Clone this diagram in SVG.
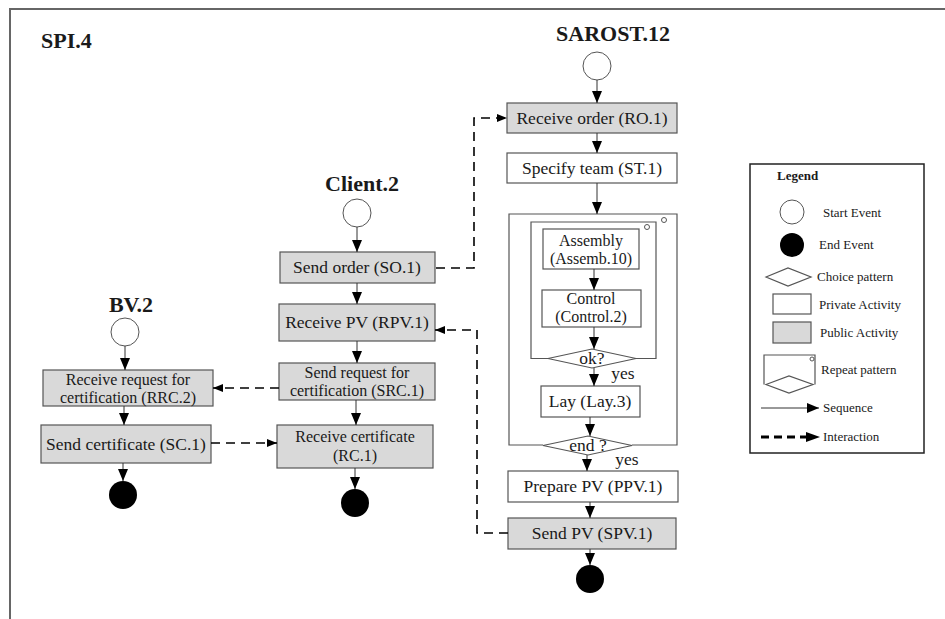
<svg xmlns="http://www.w3.org/2000/svg" width="945" height="619" viewBox="0 0 945 619">
  <defs>
    <style>
      text { font-family: "Liberation Serif", "Times New Roman", serif; fill: #1a1a1a; }
      .lbl { font-size: 17.5px; text-anchor: middle; }
      .ml { font-size: 16px; text-anchor: middle; }
      .title { font-size: 22px; font-weight: bold; text-anchor: middle; }
      .leg { font-size: 13px; }
      .pub { fill: #d9d9d9; stroke: #555; stroke-width: 1.2; }
      .priv { fill: #fff; stroke: #555; stroke-width: 1.2; }
      .start { fill: #fff; stroke: #555; stroke-width: 1; }
      .end { fill: #000; }
      .seq { stroke: #333; stroke-width: 1; fill: none; marker-end: url(#ah); }
      .int { stroke: #000; stroke-width: 1.6; fill: none; stroke-dasharray: 9 6; marker-end: url(#ahi); }
      .ch { fill: #fff; stroke: #555; stroke-width: 1.2; }
      .rep { fill: none; stroke: #555; stroke-width: 1.2; }
    </style>
    <marker id="ah" markerUnits="userSpaceOnUse" markerWidth="12" markerHeight="12" viewBox="0 0 12 10" refX="12" refY="5" orient="auto">
      <path d="M0,0 L12,5 L0,10 Z" fill="#000"/>
    </marker>
    <marker id="ahi" markerUnits="userSpaceOnUse" markerWidth="10" markerHeight="10" viewBox="0 0 10 8" refX="10" refY="4" orient="auto">
      <path d="M0,0 L10,4 L0,8 Z" fill="#000"/>
    </marker>
  </defs>

  <!-- frame -->
  <path d="M10,619 L10,9 L945,9" fill="none" stroke="#666" stroke-width="2"/>
  <text x="41" y="48" style="font-size:22px;font-weight:bold">SPI.4</text>

  <!-- SAROST.12 process -->
  <g id="sarost">
    <text class="title" x="613" y="41">SAROST.12</text>
    <circle class="start" cx="597" cy="66" r="14"/>
  </g>
  <g id="ro1"><rect class="pub" x="507" y="103" width="170" height="30"/><text class="lbl" x="592" y="124">Receive order  (RO.1)</text></g>
  <g id="st1"><rect class="priv" x="507" y="153" width="170" height="30"/><text class="lbl" x="592" y="174">Specify team (ST.1)</text></g>
  <g id="repeat-outer">
    <path class="rep" d="M543,445 L509,445 L509,214 L677,214 L677,445 L632,445"/>
    <circle class="start" cx="664" cy="220" r="2.5"/>
  </g>
  <g id="repeat-inner">
    <path class="rep" d="M548,358.5 L531,358.5 L531,222 L656,222 L656,358.5 L636,358.5"/>
    <circle class="start" cx="647" cy="227" r="2.5"/>
  </g>
  <g id="assemb10"><rect class="priv" x="543" y="229" width="96" height="40"/><text class="ml" x="591" y="246">Assembly</text><text class="ml" x="591" y="264">(Assemb.10)</text></g>
  <g id="control2"><rect class="priv" x="542" y="290" width="99" height="37"/><text class="ml" x="591" y="304">Control</text><text class="ml" x="591" y="322">(Control.2)</text></g>
  <g id="ok"><path class="ch" d="M548,358.5 L592,349 L636,358.5 L592,368 Z"/><text class="lbl" x="592" y="364">ok?</text></g>
  <g id="lay3"><rect class="priv" x="541" y="386" width="99" height="31"/><text class="lbl" x="590" y="407">Lay (Lay.3)</text></g>
  <g id="endq"><path class="ch" d="M543,445.5 L588,436 L632,445.5 L588,455 Z"/><text class="lbl" x="588" y="451">end ?</text></g>
  <g id="ppv1"><rect class="priv" x="508" y="471" width="170" height="31"/><text class="lbl" x="593" y="492">Prepare PV (PPV.1)</text></g>
  <g id="spv1"><rect class="pub" x="508" y="518" width="168" height="31"/><text class="lbl" x="592" y="539">Send PV (SPV.1)</text></g>
  <g id="sarost-end"><circle class="end" cx="590" cy="579" r="14"/></g>

  <!-- Client.2 process -->
  <g id="client">
    <text class="title" x="362" y="191">Client.2</text>
    <circle class="start" cx="357" cy="213" r="14"/>
  </g>
  <g id="so1"><rect class="pub" x="280" y="252" width="155" height="31"/><text class="lbl" x="357" y="273">Send order (SO.1)</text></g>
  <g id="rpv1"><rect class="pub" x="279" y="304" width="156" height="37"/><text class="lbl" x="357" y="328">Receive PV (RPV.1)</text></g>
  <g id="src1"><rect class="pub" x="279" y="363" width="156" height="37"/><text class="ml" x="357" y="378">Send request for</text><text class="ml" x="357" y="396">certification (SRC.1)</text></g>
  <g id="rc1"><rect class="pub" x="277" y="425" width="156" height="43"/><text class="ml" x="355" y="442">Receive certificate</text><text class="ml" x="355" y="461">(RC.1)</text></g>
  <g id="client-end"><circle class="end" cx="355" cy="503" r="14"/></g>

  <!-- BV.2 process -->
  <g id="bv">
    <text class="title" x="131" y="312">BV.2</text>
    <circle class="start" cx="125" cy="332" r="14"/>
  </g>
  <g id="rrc2"><rect class="pub" x="43" y="370" width="170" height="36"/><text class="ml" x="128" y="385">Receive request for</text><text class="ml" x="128" y="403">certification (RRC.2)</text></g>
  <g id="sc1"><rect class="pub" x="41" y="425" width="170" height="38"/><text class="lbl" x="126" y="450">Send certificate (SC.1)</text></g>
  <g id="bv-end"><circle class="end" cx="123" cy="495" r="14"/></g>

  <!-- connectors -->
  <g id="connectors">
    <line class="seq" x1="597" y1="80" x2="597" y2="103"/>
    <line class="seq" x1="597" y1="133" x2="597" y2="153"/>
    <line class="seq" x1="597" y1="183" x2="597" y2="214"/>
    <line class="seq" x1="594" y1="269" x2="594" y2="290"/>
    <line class="seq" x1="594" y1="327" x2="594" y2="349"/>
    <line class="seq" x1="594" y1="368" x2="594" y2="386"/>
    <line class="seq" x1="590" y1="417" x2="590" y2="436"/>
    <line class="seq" x1="587" y1="455" x2="587" y2="471"/>
    <line class="seq" x1="590" y1="502" x2="590" y2="518"/>
    <line class="seq" x1="590" y1="549" x2="590" y2="565"/>

    <line class="seq" x1="357" y1="227" x2="357" y2="252"/>
    <line class="seq" x1="357" y1="283" x2="357" y2="304"/>
    <line class="seq" x1="357" y1="341" x2="357" y2="363"/>
    <line class="seq" x1="356" y1="400" x2="356" y2="425"/>
    <line class="seq" x1="355" y1="468" x2="355" y2="489"/>

    <line class="seq" x1="125" y1="346" x2="125" y2="370"/>
    <line class="seq" x1="124" y1="406" x2="124" y2="425"/>
    <line class="seq" x1="123" y1="463" x2="123" y2="481"/>

    <path class="int" d="M436,268 L474,268 L474,118 L507,118"/>
    <path class="int" d="M508,533 L477,533 L477,330 L435,330"/>
    <path class="int" d="M279,388 L213,388"/>
    <path class="int" d="M211,443 L277,443"/>

    <text class="lbl" x="623" y="379">yes</text>
    <text class="lbl" x="627" y="465">yes</text>
  </g>

  <!-- legend -->
  <g id="legend">
    <rect x="750" y="164" width="174" height="289" fill="#fff" stroke="#222" stroke-width="1.5"/>
    <text class="leg" x="777" y="180" style="font-weight:bold">Legend</text>
    <circle class="start" cx="792" cy="212" r="12"/>
    <text class="leg" x="823" y="217">Start Event</text>
    <circle class="end" cx="792" cy="245" r="12"/>
    <text class="leg" x="819" y="249">End Event</text>
    <path class="ch" d="M766,277 L788,268 L811,277 L788,286 Z"/>
    <text class="leg" x="817" y="281">Choice pattern</text>
    <rect class="priv" x="773" y="294" width="38" height="20"/>
    <text class="leg" x="819" y="309">Private Activity</text>
    <rect class="pub" x="773" y="322" width="38" height="21"/>
    <text class="leg" x="820" y="337">Public Activity</text>
    <path class="rep" d="M764,384.5 L764,355 L815,355 L815,384.5"/>
    <path class="ch" d="M766,384.5 L789,376 L813,384.5 L789,393 Z"/>
    <circle class="start" cx="812" cy="359" r="2"/>
    <text class="leg" x="821" y="374">Repeat pattern</text>
    <line class="seq" x1="761" y1="408" x2="819" y2="408"/>
    <text class="leg" x="823" y="412">Sequence</text>
    <line x1="761" y1="437" x2="808" y2="437" stroke="#000" stroke-width="3" stroke-dasharray="8 5"/>
    <path d="M806,432 L820,437 L806,442 Z" fill="#000"/>
    <text class="leg" x="823" y="441">Interaction</text>
  </g>
</svg>
